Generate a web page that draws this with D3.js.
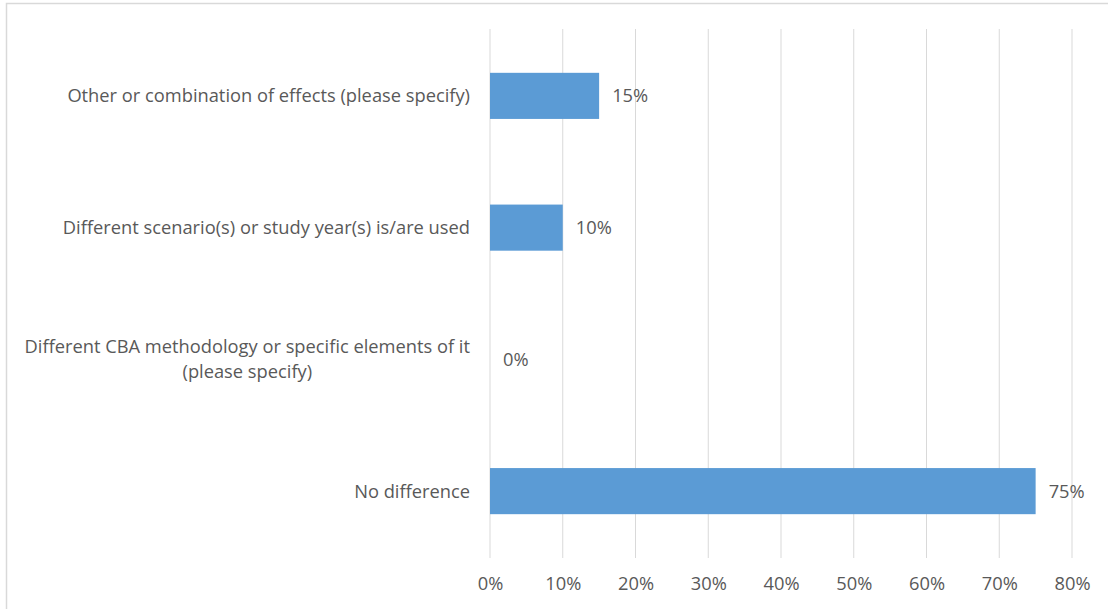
<!DOCTYPE html>
<html><head><meta charset="utf-8">
<script src="https://cdn.jsdelivr.net/npm/d3@7"></script>
<style>body{margin:0;background:#fff}svg{display:block}</style>
</head><body>
<svg id="c" width="1108" height="609"></svg>
<script>
const categories = [
  ["Other or combination of effects (please specify)"],
  ["Different scenario(s) or study year(s) is/are used"],
  ["Different CBA methodology or specific elements of it", "(please specify)"],
  ["No difference"]
];
const values = [0.15, 0.10, 0.00, 0.75];
const ticks = [0, 0.1, 0.2, 0.3, 0.4, 0.5, 0.6, 0.7, 0.8];

const svg = d3.select("#c");
const font = "'Open Sans', sans-serif";
const fs = 18.3;
svg.append("rect").attr("x", 6.5).attr("y", 3.5).attr("width", 1110).attr("height", 620)
  .attr("fill", "#fff").attr("stroke", "#d9d9d9").attr("stroke-width", 1.5);

const x = d3.scaleLinear().domain([0, 0.8]).range([490, 1072]);
const y = d3.scaleBand().domain(d3.range(categories.length)).range([30, 557]).paddingInner(0.65).paddingOuter(0.325);

const grid = svg.append("g");
ticks.forEach(t => {
  grid.append("line").attr("x1", x(t)).attr("x2", x(t)).attr("y1", 29).attr("y2", 558)
    .attr("stroke", "#d9d9d9").attr("stroke-width", 1);
});

const xAxis = d3.axisBottom(x).tickValues(ticks).tickSize(0).tickFormat(d3.format(".0%"));
const gx = svg.append("g").attr("transform", "translate(0,576)").call(xAxis);
gx.select(".domain").remove();
gx.selectAll("text").attr("font-family", font).attr("font-size", fs).attr("fill", "#595959").attr("dy", "0.62em");

svg.append("g").selectAll("text").data(values).join("text")
  .attr("x", d => x(d) + 13).attr("y", (d, i) => y(i) + y.bandwidth() / 2)
  .attr("dy", "0.35em").attr("font-family", font).attr("font-size", fs).attr("fill", "#595959")
  .text(d3.format(".0%"));

svg.append("g").selectAll("rect").data(values).join("rect")
  .attr("x", x(0)).attr("y", (d, i) => y(i)).attr("width", d => x(d) - x(0)).attr("height", y.bandwidth())
  .attr("fill", "#5b9bd5");

const lab = svg.append("g");
categories.forEach((lines, i) => {
  const cy = y(i) + y.bandwidth() / 2;
  const n = lines.length;
  const ts = lines.map((l, j) => lab.append("text").attr("text-anchor", n > 1 ? "middle" : "end")
      .attr("y", cy + (j - (n - 1) / 2) * 25).attr("dy", "0.35em")
      .attr("font-family", font).attr("font-size", fs).attr("fill", "#595959").text(l));
  const w = d3.max(ts, t => t.node().getComputedTextLength());
  ts.forEach(t => t.attr("x", n > 1 ? 470 - w / 2 : 470));
});
</script>
</body></html>
